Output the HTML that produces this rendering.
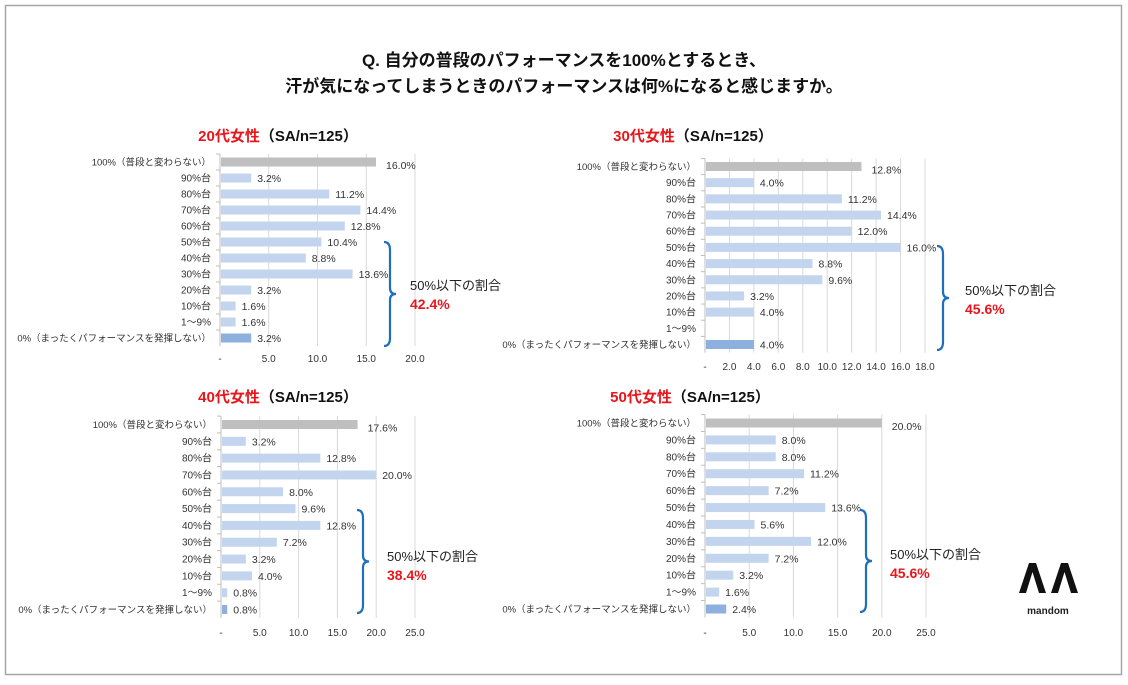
<!DOCTYPE html>
<html><head><meta charset="utf-8">
<style>
html,body{margin:0;padding:0;background:#fff;}
body{width:1128px;height:680px;overflow:hidden;font-family:"Liberation Sans","Noto Sans CJK JP",sans-serif;}
svg text{font-family:"Liberation Sans","Noto Sans CJK JP",sans-serif;}
</style></head>
<body>
<svg id="s" width="1128" height="680" xmlns="http://www.w3.org/2000/svg">
<rect x="5.5" y="5.5" width="1116" height="669" fill="#fff" stroke="#a6a6a6" stroke-width="1.5"/>
<text x="564" y="66" text-anchor="middle" font-size="17" font-weight="bold" fill="#111">Q. 自分の普段のパフォーマンスを100%とするとき、</text>
<text x="564" y="92" text-anchor="middle" font-size="17" font-weight="bold" fill="#111">汗が気になってしまうときのパフォーマンスは何%になると感じますか。</text>
<g>
<path d="M1019 593 L1029 563 L1036 563 L1046 593 L1039 593 L1032.5 572 L1026 593Z" fill="#111"/>
<path d="M1051 593 L1061 563 L1068 563 L1078 593 L1071 593 L1064.5 572 L1058 593Z" fill="#111"/>
<text x="1048" y="614" text-anchor="middle" font-size="10" font-weight="bold" fill="#222">mandom</text>
</g>
</svg>
<script>
const categories=["100%（普段と変わらない）","90%台","80%台","70%台","60%台","50%台","40%台","30%台","20%台","10%台","1～9%","0%（まったくパフォーマンスを発揮しない）"];
const values20=[16.0,3.2,11.2,14.4,12.8,10.4,8.8,13.6,3.2,1.6,1.6,3.2];
const values30=[12.8,4.0,11.2,14.4,12.0,16.0,8.8,9.6,3.2,4.0,0,4.0];
const values40=[17.6,3.2,12.8,20.0,8.0,9.6,12.8,7.2,3.2,4.0,0.8,0.8];
const values50=[20.0,8.0,8.0,11.2,7.2,13.6,5.6,12.0,7.2,3.2,1.6,2.4];
const ticks20=[0,5,10,15,20];
const ticks30=[0,2,4,6,8,10,12,14,16,18];
const ticks40=[0,5,10,15,20,25];
const ticks50=[0,5,10,15,20,25];
const groupLabels=["20代女性","30代女性","40代女性","50代女性"];
const shareLabels=["42.4%","45.6%","38.4%","45.6%"];
const NS="http://www.w3.org/2000/svg";
const svg=document.getElementById('s');
function mk(tag,attrs,parent){const e=document.createElementNS(NS,tag);for(const k in attrs)e.setAttribute(k,attrs[k]);(parent||svg).appendChild(e);return e;}
const panels=[
 {vals:values20,ticks:ticks20,x0:220,x1:415,y0:162,y1:338,ty:362,tx:278,tyy:141,br:[390,242,346],lx:410,ly:290,key:"20s"},
 {vals:values30,ticks:ticks30,x0:705,x1:925,y0:166.5,y1:344.5,ty:370,tx:693,tyy:141,br:[943,246,350],lx:965,ly:295,key:"30s"},
 {vals:values40,ticks:ticks40,x0:221,x1:415,y0:424.5,y1:609.5,ty:636,tx:278,tyy:402,br:[363,510,613],lx:387,ly:561,key:"40s"},
 {vals:values50,ticks:ticks50,x0:705,x1:926,y0:423,y1:609,ty:636,tx:690,tyy:402,br:[866,510,612],lx:890,ly:559,key:"50s"}
];
panels.forEach((p,pi)=>{
 const g=mk('g',{});
 
 
 const max=p.ticks[p.ticks.length-1];
 const xs=v=>p.x0+(p.x1-p.x0)*v/max;
 const step=(p.y1-p.y0)/(categories.length-1);
 const ys=i=>p.y0+i*step;
 const top=p.y0-step/2, bot=p.y1+step/2;
 const t=mk('text',{x:p.tx,y:p.tyy,'text-anchor':'middle','font-size':15,'font-weight':'bold',fill:'#111'},g);
 
 
 const ts=mk('tspan',{fill:'#e8161b'},t);ts.textContent=groupLabels[pi];
 const ts2=mk('tspan',{},t);ts2.textContent="（SA/n=125）";
 p.ticks.forEach(v=>{
  if(v>0){const gl=mk('line',{x1:xs(v),x2:xs(v),y1:top,y2:bot,stroke:'#d9d9d9','stroke-width':1},g);
  
  }
  const tl=mk('text',{x:xs(v),y:p.ty,'text-anchor':'middle','font-size':10,fill:'#333'},g);
  
  
  tl.textContent=v===0?'-':v.toFixed(1);
 });
 const ax=mk('line',{x1:p.x0,x2:p.x0,y1:top,y2:bot,stroke:'#bfbfbf','stroke-width':1},g);
 
 
 categories.forEach((c,i)=>{
  const y=ys(i);
  const tk=mk('line',{x1:p.x0-4,x2:p.x0,y1:y-step/2,y2:y-step/2,stroke:'#bfbfbf'},g);
  
  
  const lb=mk('text',{x:p.x0-9,y:y+3.5,'text-anchor':'end','font-size':i===0||i===11?9.5:10,fill:'#333'},g);
  
  
  lb.textContent=c;
  const v=p.vals[i];
  const col=i===0?'#bfbfbf':(i===11?'#8eb0dc':'#c3d5ee');
  const b=mk('rect',{x:p.x0+1,y:y-4.5,width:Math.max(0,xs(v)-p.x0-1),height:9,fill:col},g);
  
  
  if(v>0){
   const vl=mk('text',{x:xs(v)+(i===0?10:6),y:y+(i===0?7:4),'font-size':10.5,fill:'#333'},g);
   
   
   vl.textContent=v.toFixed(1)+'%';
  }
 });
 const [bx,by0,by1]=p.br, mid=(by0+by1)/2;
 const br=mk('path',{d:`M${bx-6} ${by0} Q${bx} ${by0} ${bx} ${by0+8} L${bx} ${mid-6} Q${bx} ${mid} ${bx+6} ${mid} Q${bx} ${mid} ${bx} ${mid+6} L${bx} ${by1-8} Q${bx} ${by1} ${bx-6} ${by1}`,fill:'none',stroke:'#1f6fbf','stroke-width':2.2},g);
 
 
 const l1=mk('text',{x:p.lx,y:p.ly,'font-size':13,fill:'#222'},g);
 
 
 l1.textContent='50%以下の割合';
 const l2=mk('text',{x:p.lx,y:p.ly+19,'font-size':14,'font-weight':'bold',fill:'#e8161b'},g);
 
 
 l2.textContent=shareLabels[pi];
});
</script>
</body></html>
